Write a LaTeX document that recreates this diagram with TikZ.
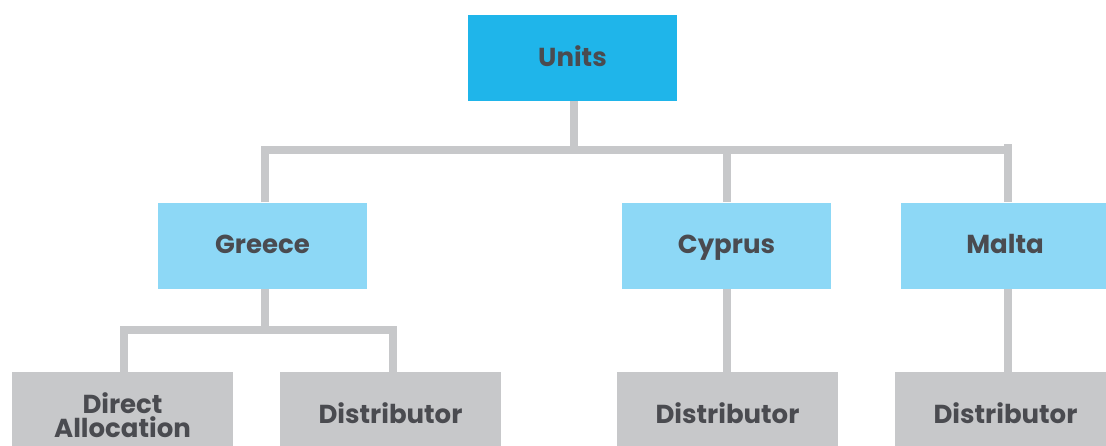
\documentclass[tikz,border=0pt]{standalone}
\usepackage{fontspec}
\setmainfont{Poppins}
\definecolor{unitblue}{HTML}{1FB5EA}
\definecolor{countryblue}{HTML}{8DD8F6}
\definecolor{boxgray}{HTML}{C7C8CA}
\definecolor{linegray}{HTML}{C7C8CA}
\definecolor{textgray}{HTML}{4A4B50}
\tikzset{
  box/.style={rectangle, inner sep=0pt, minimum height=86pt, text=textgray,
    font=\fontsize{26}{23.5}\selectfont\bfseries, align=center},
  oneline/.style={text height=18pt, text depth=2pt},
  topbox/.style={box, oneline, fill=unitblue, minimum width=209pt},
  countrybox/.style={box, oneline, fill=countryblue, minimum width=209pt},
  leafbox/.style={box, fill=boxgray, minimum width=221pt},
  link/.style={draw=linegray, line width=8pt, line join=miter, line cap=butt}
}
\begin{document}
\begin{tikzpicture}[x=1pt, y=-1pt]
  \useasboundingbox (0,0) rectangle (1106,445);
  \begin{scope}
  \clip (0,0) rectangle (1106,445);

  % junction points of the connector lines
  \coordinate (ustem) at (574,150);
  \coordinate (gbar) at (264.7,150);
  \coordinate (cbar) at (727,150);
  \coordinate (mbar) at (1007.5,150);
  \coordinate (mtop) at (1007.5,144);
  \coordinate (gsplit) at (264.7,330);
  \coordinate (dabar) at (124,330);
  \coordinate (dibar) at (393,330);

  % boxes
  \node[topbox] (units) at (572.5,58) {Units};
  \node[countrybox] (greece) at (262.5,245.5) {Greece};
  \node[countrybox] (cyprus) at (726.5,245.5) {Cyprus};
  \node[countrybox] (malta) at (1005,245.5) {Malta};
  \node[leafbox] (direct) at (122.5,415) {Direct\\Allocation};
  \node[leafbox, oneline] (dist1) at (390.5,415) {Distributor};
  \node[leafbox, oneline] (dist2) at (727.5,415) {Distributor};
  \node[leafbox, oneline] (dist3) at (1005.5,415) {Distributor};

  % connectors
  \path[link] (units.south -| ustem) -- (ustem);
  \path[link] (greece.north -| gbar) -- (gbar) -- (mbar);
  \path[link] (mtop) -- (malta.north -| mtop);
  \path[link] (cbar) -- (cyprus.north -| cbar);
  \path[link] (greece.south -| gsplit) -- (gsplit);
  \path[link] (direct.north -| dabar) -- (dabar) -- (dibar) -- (dist1.north -| dibar);
  \path[link] (cyprus.south -| cbar) -- (dist2.north -| cbar);
  \path[link] (malta.south -| mbar) -- (dist3.north -| mbar);
  \end{scope}
\end{tikzpicture}
\end{document}
